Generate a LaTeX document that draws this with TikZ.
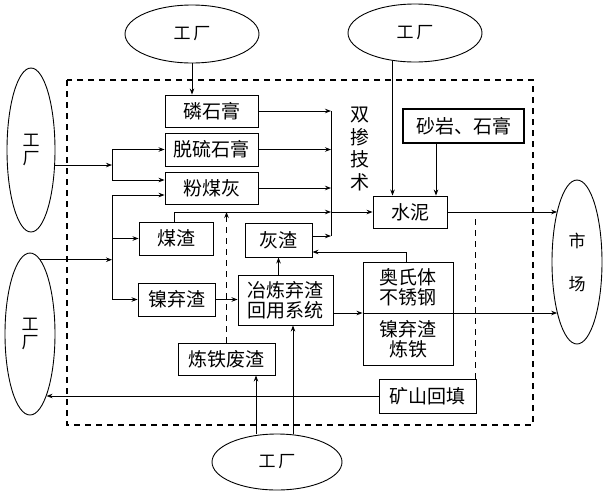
\documentclass[tikz,border=0pt]{standalone}
\usepackage{fontspec}
\newfontfamily\cjk{Noto Sans CJK SC}
\usetikzlibrary{arrows.meta,calc,shapes.geometric}
\begin{document}
\begin{tikzpicture}[x=1pt,y=-1pt,
  box/.style={draw,line width=0.9pt,inner sep=0pt,font=\cjk\fontsize{19}{20}\selectfont,align=center},
  oval/.style={draw,ellipse,line width=0.9pt,inner sep=0pt,font=\cjk\fontsize{17}{19}\selectfont,align=center},
  conn/.style={line width=0.8pt,-{Stealth[length=6pt,width=4.5pt]}},
  plain/.style={line width=0.8pt},
  frame/.style={line width=1.2pt,dash pattern=on 6pt off 5pt}]
\useasboundingbox (0,0) rectangle (605,491);

% ellipses
\node[oval,minimum width=134pt,minimum height=58pt] (e1) at (192,34) {工\,厂};
\node[oval,minimum width=134pt,minimum height=58pt] (e2) at (415,33) {工\,厂};
\node[oval,minimum width=48pt,minimum height=164pt,font=\cjk\fontsize{17}{18}\selectfont] (e3) at (31,150) {工\\厂};
\node[oval,minimum width=50pt,minimum height=162pt,font=\cjk\fontsize{17}{18}\selectfont] (e4) at (30,334) {工\\厂};
\node[oval,minimum width=130pt,minimum height=56pt] (e5) at (277,462) {工\,厂};
\node[oval,minimum width=50pt,minimum height=164pt] (sc) at (577,262) {市\\[24pt]场};

% boxes
\node[box,minimum width=93pt,minimum height=32pt] (lin) at (211.5,111) {磷石膏};
\node[box,minimum width=93pt,minimum height=33pt] (tl) at (211.5,149.5) {脱硫石膏};
\node[box,minimum width=93pt,minimum height=32pt] (fm) at (211.5,188) {粉煤灰};
\node[box,minimum width=74pt,minimum height=33pt] (mz) at (176,238.5) {煤渣};
\node[box,minimum width=67pt,minimum height=34pt] (hz) at (278.5,240) {灰渣};
\node[box,minimum width=77pt,minimum height=33pt] (nq) at (176.5,299.5) {镍弃渣};
\node[box,minimum width=95pt,minimum height=50pt] (yl) at (285.5,300) {冶炼弃渣\\回用系统};
\node[box,minimum width=97pt,minimum height=32pt] (ltf) at (226.5,359) {炼铁废渣};
\node[box,minimum width=90pt,minimum height=51pt] (as) at (408,287.5) {奥氏体\\不锈钢};
\node[box,minimum width=90pt,minimum height=52pt] (nt) at (408,339) {镍弃渣\\炼铁};
\node[box,minimum width=97pt,minimum height=34pt] (ks) at (427.5,396) {矿山回填};
\node[box,minimum width=74pt,minimum height=32pt] (sn) at (410,212) {水泥};
\node[box,line width=1.6pt,minimum width=121pt,minimum height=34pt] (sy) at (463.5,126) {砂岩、石膏};
\node[font=\cjk\fontsize{19}{22.5}\selectfont,align=center,inner sep=0pt] (sc2) at (360,149) {双\\掺\\技\\术};

% frame
\draw[frame] (67,80) rectangle (533,425);
\coordinate (k1) at ($(ks.north east)+(-1,0)$);
\draw[frame] (k1) -- ++(0,-162);

% top factories
\draw[conn] (e1.south) -- (e1.south |- lin.north);
\draw[conn] (e2.231) -- (e2.231 |- sn.north);
\coordinate (s1) at ($(sy.south)+(-27.5,0)$);
\draw[conn] (s1) -- (s1 |- sn.north);

% double-mixing bus
\coordinate (bus) at (331,212);
\coordinate (h1) at ($(hz.east)+(0,-4)$);
\draw[conn] (lin.east) -- (lin.east -| bus);
\draw[conn] (tl.east) -- (tl.east -| bus);
\draw[conn] (fm.east) -- (fm.east -| bus);
\draw[conn] (h1) -- (h1 -| bus);
\draw[plain] (lin.east -| bus) -- (h1 -| bus);
\draw[conn] ($(mz.north)+(-2,0)$) |- (bus);
\draw[conn] (bus) -- (bus -| sn.west);
\draw[conn,frame] (ltf.north) -- (ltf.north |- bus);

% returns
\coordinate (h2) at ($(hz.east)+(0,12)$);
\draw[conn] ($(as.north)+(-2,0)$) |- (h2);
\draw[conn] (yl.north -| hz.south) -- (hz.south);
\draw[conn,line width=1pt] (nq.east) -- (nq.east -| yl.west);
\coordinate (y1) at ($(yl.east)+(0,13)$);
\draw[conn,line width=1pt] (y1) -- (y1 -| as.west);
\draw[conn,line width=1pt] (y1 -| as.east) -- (y1 -| sc.249);
\draw[conn,line width=1pt] (sn.east) -- (sn.east -| sc.111);

% bottom factory
\coordinate (b1) at ($(ltf.south)+(29.5,0)$);
\coordinate (b2) at ($(yl.south)+(7.5,0)$);
\draw[conn] (b1 |- e5.north) -- (b1);
\draw[conn] (b2 |- e5.north) -- (b2);
\draw[conn] (ks.west) -- (ks.west -| e4.285);

% left upper factory
\coordinate (lb) at (112,165);
\coordinate (f1) at ($(fm.west)+(0,-8)$);
\draw[conn] (e3.328) -- (e3.328 -| lb);
\draw[plain] (lb |- tl.west) -- (lb |- f1);
\draw[conn] (lb |- tl.west) -- (tl.west);
\draw[conn] (f1 -| lb) -- (f1);

% left lower factory
\coordinate (lc) at (112,261);
\coordinate (f2) at ($(fm.west)+(0,7)$);
\draw[conn] (e4.82) -- (e4.82 -| lc);
\draw[plain] (lc |- f2) -- (lc |- nq.west);
\draw[conn] (lc |- f2) -- (f2);
\draw[conn] (lc |- mz.west) -- (mz.west);
\draw[conn] (lc |- nq.west) -- (nq.west);
\end{tikzpicture}
\end{document}
